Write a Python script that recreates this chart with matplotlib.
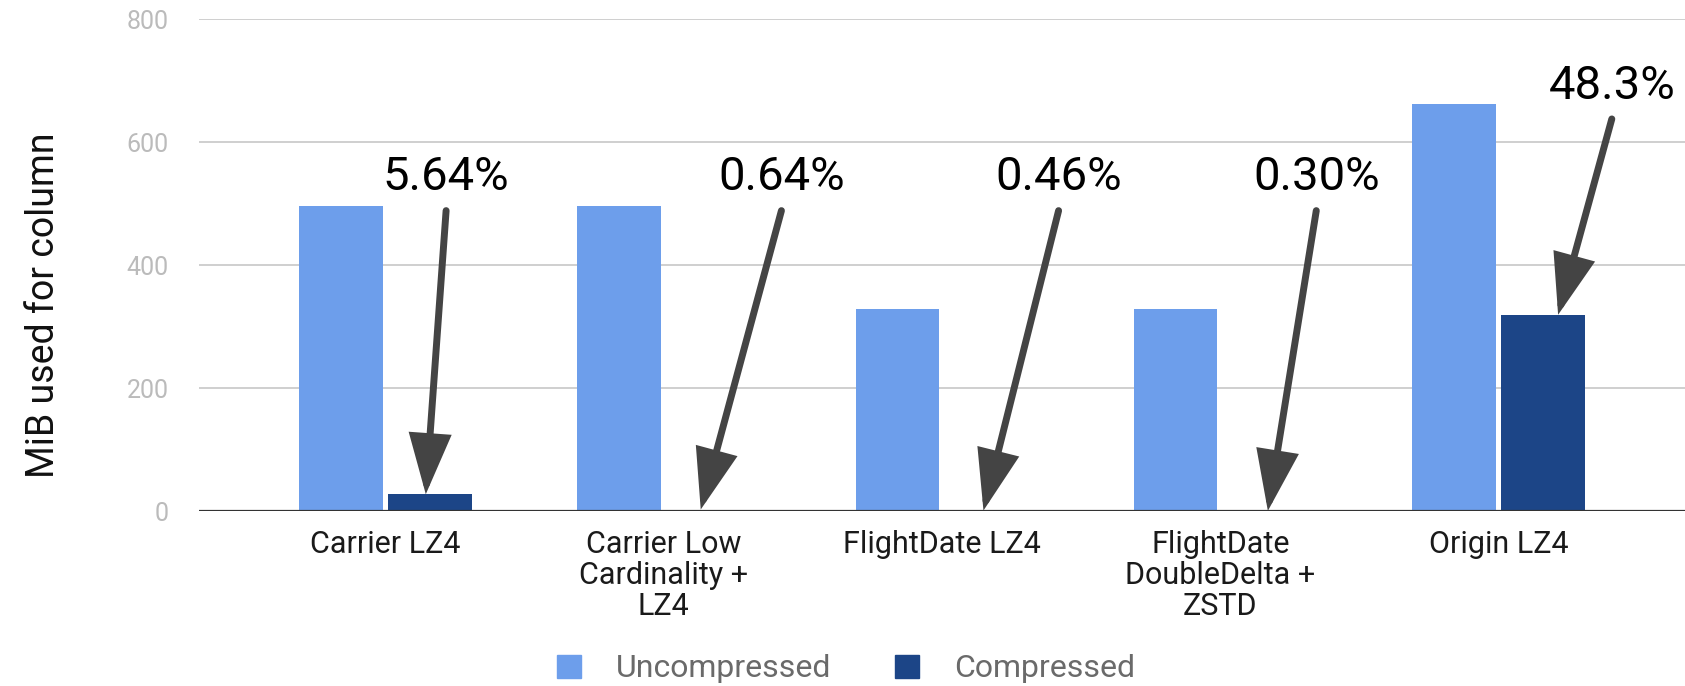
import matplotlib.pyplot as plt
from matplotlib.patches import Patch

plt.rcParams['font.family'] = ['Roboto', 'DejaVu Sans']

# data
categories = ['Carrier LZ4', 'Carrier Low\nCardinality +\nLZ4', 'FlightDate LZ4',
              'FlightDate\nDoubleDelta +\nZSTD', 'Origin LZ4']
uncompressed = [497, 497, 329, 329, 662]
ratio_labels = ['5.64%', '0.64%', '0.46%', '0.30%', '48.3%']
compressed = [u * float(r.rstrip('%')) / 100 for u, r in zip(uncompressed, ratio_labels)]

# where the ratio labels sit and where their arrows point
label_x = [0.218, 1.423, 2.419, 3.345, 4.407]
label_y = [543, 543, 543, 543, 692]
tip_x = [0.145, 1.133, 2.149, 3.171, 4.214]

light = '#6d9eeb'
dark = '#1c4587'

fig = plt.figure(figsize=(16.85, 6.86), dpi=100)
ax = fig.add_axes([0.1181, 0.2544, 0.8819, 0.7175])

x = list(range(len(categories)))
ax.bar([i - 0.16 for i in x], uncompressed, width=0.30, color=light, zorder=3)
ax.bar([i + 0.16 for i in x], compressed, width=0.30, color=dark, zorder=3)

ax.set_xlim(-0.67, 4.67)
ax.set_ylim(0, 800)
ax.set_yticks([0, 200, 400, 600, 800])
ax.yaxis.grid(True, color='#cccccc', lw=1.3, zorder=0)
ax.axhline(0, color='#333333', lw=1.6, zorder=4)
for s in ['top', 'right', 'left', 'bottom']:
    ax.spines[s].set_visible(False)
ax.tick_params(axis='y', length=0, pad=22, labelsize=18, labelcolor='#bbbbbb')
ax.tick_params(axis='x', length=0, pad=13)
ax.set_xticks(x)
ax.set_xticklabels(categories, fontsize=22, color='#1a1a1a', linespacing=1.1, va='top')

fig.text(0.026, 0.555, 'MiB used for column', rotation=90, fontsize=27,
         color='#111111', ha='center', va='center')

# ratio annotations with arrows
for i in range(len(categories)):
    ax.text(label_x[i], label_y[i], ratio_labels[i], fontsize=34, ha='center',
            va='center', color='black', zorder=6)
    ax.annotate('', xy=(tip_x[i], compressed[i]), xytext=(label_x[i], label_y[i] - 54),
                arrowprops=dict(arrowstyle='-|>,head_length=1.7,head_width=0.6',
                                mutation_scale=20, lw=5, color='#444444',
                                shrinkA=0, shrinkB=0, joinstyle='miter'),
                zorder=5)

handles = [Patch(color=light, label='Uncompressed'), Patch(color=dark, label='Compressed')]
fig.legend(handles=handles, loc='center', bbox_to_anchor=(0.502, 0.025), ncol=2,
           frameon=False, fontsize=23, labelcolor='#6a6a6a', handlelength=0.75,
           handleheight=0.75, columnspacing=2.0, handletextpad=1.1)

fig.savefig('out.png', dpi=100)
